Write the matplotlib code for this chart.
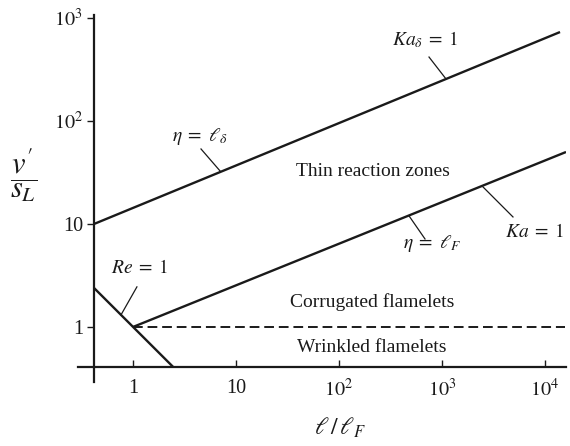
import matplotlib
matplotlib.use("Agg")
import matplotlib.pyplot as plt
import numpy as np

plt.rcParams['font.family'] = ['Liberation Serif', 'DejaVu Serif']
plt.rcParams['mathtext.fontset'] = 'stix'

# Boundary lines (x = l/lF, y = v'/sL)
ka_delta_x = [0.418, 14000]
ka_delta_y = [10, 731]
ka_x = [1, 16000]
ka_y = [1, 50]
re_x = [0.418, 2.45]
re_y = [2.39, 0.409]
dash_x = [1, 15500]
dash_y = [1, 1]

x_ticks = [1, 10, 100, 1000, 10000]
x_ticklabels = ['1', '10', r'$10^2$', r'$10^3$', r'$10^4$']
y_ticks = [1, 10, 100, 1000]
y_ticklabels = ['1', '10', r'$10^2$', r'$10^3$']

# region labels (text, x, y)
regions = [
    ("Thin reaction zones", 214, 32),
    ("Corrugated flamelets", 209, 1.75),
    ("Wrinkled flamelets", 208, 0.625),
]
# line labels (text, label x, label y, ha, leader start xy, leader end xy)
line_labels = [
    (r'$Ka_{\delta}\;=\;1$', 684, 611, 'center', (748, 418), (1094, 256)),
    (r'$\eta\;=\;\ell_{\delta}$', 4.47, 70, 'center', (4.57, 53.5), (7.0, 32.7)),
    (r'$Ka\;=\;1$', 15500, 8.36, 'right', (2500, 22.9), (4890, 11.7)),
    (r'$\eta\;=\;\ell_F$', 800, 6.5, 'center', (478, 12.0), (684, 7.15)),
    (r'$Re\;=\;1$', 1.17, 3.74, 'center', (1.09, 2.45), (0.764, 1.31)),
]

col = '#1a1a1a'
fig = plt.figure(figsize=(5.7, 4.46), dpi=100)
ax = fig.add_axes([78/570, 1-382/446, (566-78)/570, (382-15)/446])
ax.set_xscale('log')
ax.set_yscale('log')
ax.set_xlim(0.292, 16000)
ax.set_ylim(0.292, 1070)

for s in ['top', 'right']:
    ax.spines[s].set_visible(False)
ax.spines['left'].set_position(('data', 0.418))
ax.spines['bottom'].set_position(('data', 0.409))
for s in ['left', 'bottom']:
    ax.spines[s].set_linewidth(1.6)
    ax.spines[s].set_color(col)

ax.set_xticks(x_ticks)
ax.set_xticklabels(x_ticklabels)
ax.set_yticks(y_ticks)
ax.set_yticklabels(y_ticklabels)
ax.minorticks_off()
ax.tick_params(axis='x', direction='in', length=5, width=1, labelsize=14.5, colors=col, pad=9)
ax.tick_params(axis='y', direction='out', length=5, width=1, labelsize=14.5, colors=col, pad=3)

lw = 1.7
ax.plot(ka_delta_x, ka_delta_y, color=col, lw=lw, solid_capstyle='butt')
ax.plot(ka_x, ka_y, color=col, lw=lw, solid_capstyle='butt')
ax.plot(re_x, re_y, color=col, lw=lw, solid_capstyle='butt')
ax.plot(dash_x, dash_y, color=col, lw=1.4, dashes=(5, 2.5))

for t, x, y in regions:
    ax.text(x, y, t, fontsize=14, ha='center', va='center', color=col)
for t, x, y, ha, p0, p1 in line_labels:
    ax.text(x, y, t, fontsize=14, ha=ha, va='center', color=col)
    ax.plot([p0[0], p1[0]], [p0[1], p1[1]], color=col, lw=0.9)

fig.text(24/570, 1-175/446, r"$\dfrac{v'}{s_L}$", fontsize=22, ha='center', va='center', color=col)
fig.text(340/570, 1-428/446, r"$\ell\,/\,\ell_F$", fontsize=17, ha='center', va='center', color=col)

fig.savefig('out.png', dpi=100)
